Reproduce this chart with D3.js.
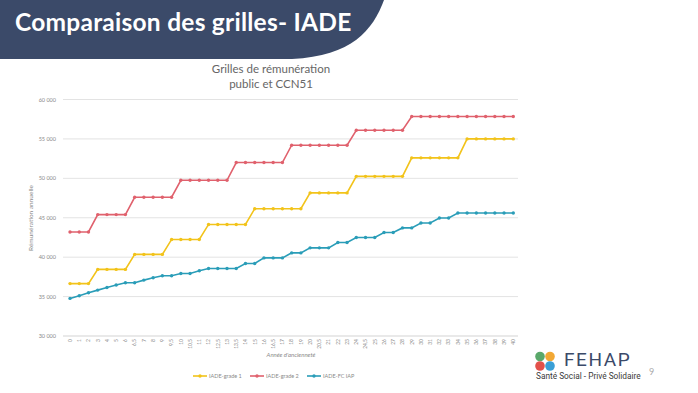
<!DOCTYPE html>
<html lang="fr">
<head>
<meta charset="utf-8">
<title>Comparaison des grilles- IADE</title>
<script src="https://cdn.jsdelivr.net/npm/d3@7"></script>
<style>
  html, body { margin: 0; padding: 0; background: #fff; }
  svg { display: block; font-family: "Lato", "Open Sans", sans-serif; }
</style>
</head>
<body>
<script>
// Années d'ancienneté (catégories de l'axe X)
let years = ["0","1","2","3","4","5","6","6,5","7","8","9","9,5","10","10,5","11","12","12,5","13","13,5",
  "14","15","16","16,5","17","18","19","20","20,5","21","22","23","24","24,5",
  "25","26","27","28","29","30","31","32","33","34","35","36","37","38","39","40"];

// Rémunération annuelle
let grade1 = [36650,36650,36650,38450,38450,38450,38450,40350,40350,40350,40350,42250,42250,42250,42250,
  44150,44150,44150,44150,44150,46150,46150,46150,46150,46150,46150,48150,48150,48150,48150,48150,
  50250,50250,50250,50250,50250,50250,52600,52600,52600,52600,52600,52600,55000,55000,55000,55000,55000,55000];
let grade2 = [43200,43200,43200,45400,45400,45400,45400,47600,47600,47600,47600,47600,
  49750,49750,49750,49750,49750,49750,52000,52000,52000,52000,52000,52000,
  54200,54200,54200,54200,54200,54200,54200,56100,56100,56100,56100,56100,56100,
  57850,57850,57850,57850,57850,57850,57850,57850,57850,57850,57850,57850];
let fcIap = [34770,35110,35490,35820,36160,36460,36750,36750,37090,37380,37640,37640,37930,37930,38270,
  38570,38570,38570,38570,39200,39200,39910,39910,39910,40540,40540,41180,41180,41180,41860,41860,
  42490,42490,42490,43120,43120,43710,43710,44340,44340,44970,44970,45610,45610,45610,45610,45610,45610,45610];

let yTicks = [30000,35000,40000,45000,50000,55000,60000];

let series = [
  {name: "IADE-grade 1", values: grade1, color: "#f2c31a"},
  {name: "IADE-grade 2", values: grade2, color: "#e0616d"},
  {name: "IADE-FC IAP", values: fcIap, color: "#2a9db8"}
];

let w = 698, h = 393;

let svg = d3.select("body")
  .append("svg")
  .attr("width", w)
  .attr("height", h);

// bandeau de titre
svg.append("path")
  .attr("d", "M0,0 L384,0 C373,30 352,56 292,59 L0,59 Z")
  .attr("fill", "#3b4a69");

svg.append("text")
  .attr("x", 15)
  .attr("y", 31)
  .attr("fill", "#fff")
  .attr("font-size", 24.5)
  .attr("font-weight", "bold")
  .attr("letter-spacing", 0.25)
  .text("Comparaison des grilles- IADE");

// titre du graphique
svg.append("text")
  .attr("text-anchor", "middle")
  .attr("fill", "#666")
  .attr("font-size", 11.5)
  .selectAll("tspan")
  .data(["Grilles de rémunération", "public et CCN51"])
  .join("tspan")
  .attr("x", 271)
  .attr("y", (d, i) => 73 + i * 15)
  .text(d => d);

let x = d3.scalePoint()
  .domain(years)
  .range([65.4, 517.9])
  .padding(0.5);

let y = d3.scaleLinear()
  .domain([30000, 60000])
  .range([336, 99.5]);

let fmt = d => d3.format(",")(d).replace(",", " ");

// grille horizontale
svg.append("g")
  .selectAll("line")
  .data(yTicks)
  .join("line")
  .attr("x1", 63)
  .attr("x2", 518)
  .attr("y1", d => y(d))
  .attr("y2", d => y(d))
  .attr("stroke", d => d == 30000 ? "#c8c8c8" : "#dcdcdc")
  .attr("stroke-width", 0.8);

// étiquettes Y
svg.append("g")
  .selectAll("text")
  .data(yTicks)
  .join("text")
  .attr("x", 56)
  .attr("y", d => y(d) + 2)
  .attr("text-anchor", "end")
  .attr("font-size", 5.5)
  .attr("fill", "#8a8a8a")
  .text(fmt);

// étiquettes X (verticales)
svg.append("g")
  .selectAll("text")
  .data(years)
  .join("text")
  .attr("transform", d => `translate(${x(d) + 1.8},339) rotate(-90)`)
  .attr("text-anchor", "end")
  .attr("font-size", 5)
  .attr("fill", "#8a8a8a")
  .text(d => d);

// titres des axes
svg.append("text")
  .attr("transform", "translate(33,218) rotate(-90)")
  .attr("text-anchor", "middle")
  .attr("font-size", 6.5)
  .attr("fill", "#8a8a8a")
  .text("Rémunération annuelle");

svg.append("text")
  .attr("x", 291)
  .attr("y", 357)
  .attr("text-anchor", "middle")
  .attr("font-size", 6)
  .attr("font-style", "italic")
  .attr("fill", "#8a8a8a")
  .text("Année d'ancienneté");

// courbes
let line = d3.line()
  .x((d, i) => x(years[i]))
  .y(d => y(d));

let g = svg.append("g");

series.forEach(s => {
  g.append("path")
    .datum(s.values)
    .attr("fill", "none")
    .attr("stroke", s.color)
    .attr("stroke-width", 1.6)
    .attr("d", line);

  g.append("g")
    .selectAll("circle")
    .data(s.values)
    .join("circle")
    .attr("cx", (d, i) => x(years[i]))
    .attr("cy", d => y(d))
    .attr("r", 1.7)
    .attr("fill", s.color);
});

// légende
let legX = [193, 250, 307];
let leg = svg.append("g")
  .selectAll("g")
  .data(series)
  .join("g")
  .attr("transform", (d, i) => `translate(${legX[i]},376)`);

leg.append("line")
  .attr("x1", 0).attr("x2", 14)
  .attr("stroke", d => d.color)
  .attr("stroke-width", 1.6);

leg.append("circle")
  .attr("cx", 7).attr("r", 1.7)
  .attr("fill", d => d.color);

leg.append("text")
  .attr("x", 16)
  .attr("y", 2)
  .attr("font-size", 5.5)
  .attr("fill", "#8a8a8a")
  .text(d => d.name);

// logo FEHAP
let petals = [
  {dx: 0, dy: 0, c: "#5aa86a"},
  {dx: 1, dy: 0, c: "#f2a834"},
  {dx: 0, dy: 1, c: "#e2514a"},
  {dx: 1, dy: 1, c: "#3a9fd6"}
];
svg.append("g")
  .selectAll("circle")
  .data(petals)
  .join("circle")
  .attr("cx", d => 540 + d.dx * 10)
  .attr("cy", d => 356.5 + d.dy * 9.5)
  .attr("r", 4.8)
  .attr("fill", d => d.c);

svg.append("text")
  .attr("x", 564)
  .attr("y", 365.5)
  .attr("font-size", 19)
  .attr("letter-spacing", 1.6)
  .attr("font-family", "Roboto, sans-serif")
  .attr("fill", "#3b4a69")
  .text("FEHAP");

svg.append("text")
  .attr("x", 536)
  .attr("y", 378.5)
  .attr("font-size", 8.3)
  .attr("font-family", "Roboto, sans-serif")
  .attr("fill", "#3a3a3a")
  .text("Santé Social - Privé Solidaire");

svg.append("text")
  .attr("x", 649)
  .attr("y", 375)
  .attr("font-size", 9)
  .attr("fill", "#aaa")
  .text("9");
</script>
</body>
</html>
